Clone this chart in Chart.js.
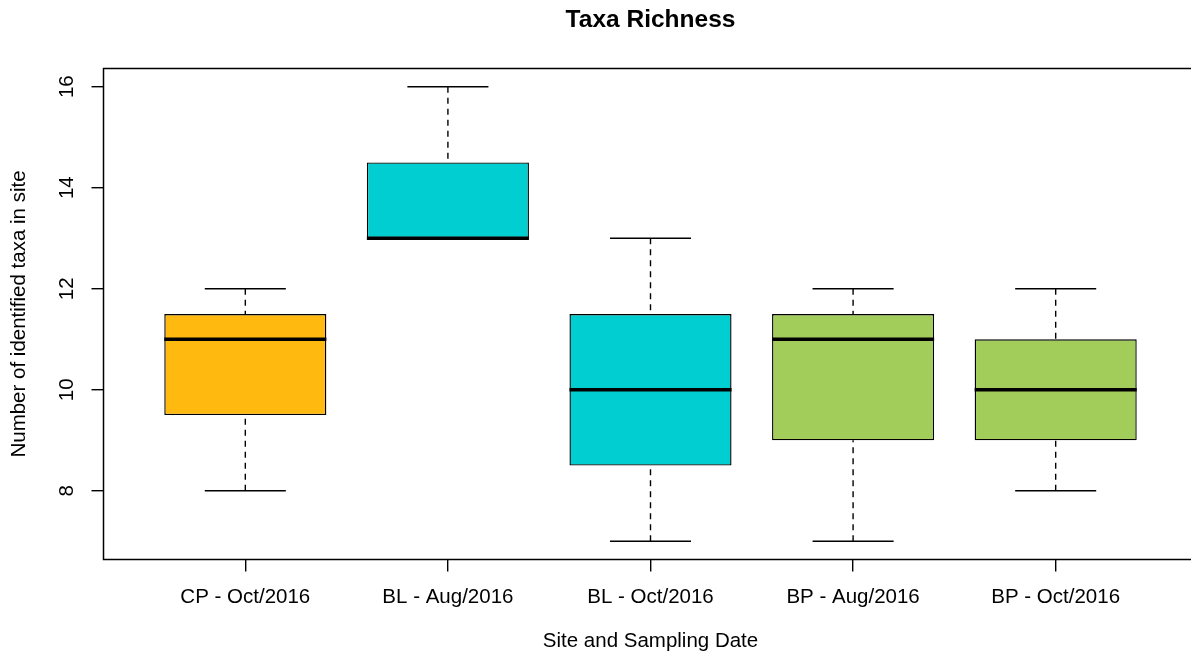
<!DOCTYPE html>
<html>
<head>
<meta charset="utf-8">
<title>Taxa Richness</title>
<script src="https://cdn.jsdelivr.net/npm/chart.js@4.4.0/dist/chart.umd.min.js"></script>
<style>
  html, body { margin: 0; padding: 0; background: #fff; overflow: hidden; }
  canvas { display: block; }
</style>
</head>
<body>
<canvas id="chart" width="1205" height="661"></canvas>
<script>
// five-number summaries, one entry per site/date
const categories = ['CP - Oct/2016', 'BL - Aug/2016', 'BL - Oct/2016', 'BP - Aug/2016', 'BP - Oct/2016'];
const positions = [1, 2, 3, 4, 5];
const mins = [8, 13, 7, 7, 8];
const q1s = [9.5, 13, 8.5, 9, 9];
const medians = [11, 13, 10, 11, 10];
const q3s = [11.5, 14.5, 11.5, 11.5, 11];
const maxs = [12, 16, 13, 12, 12];
const yTicks = [8, 10, 12, 14, 16];
const boxColors = ['#FFB90F', '#00CED1', '#00CED1', '#A2CD5A', '#A2CD5A'];

const FONT = "'Liberation Sans', Arial, Helvetica, sans-serif";

// whiskers, staples, medians and the plot frame (R bxp style)
const boxplotExtras = {
  id: 'boxplotExtras',
  afterDatasetsDraw(chart) {
    const { ctx, chartArea, scales: { x, y } } = chart;
    const bars = chart.getDatasetMeta(0).data;
    ctx.save();
    ctx.strokeStyle = '#000';
    positions.forEach((pos, i) => {
      const cx = x.getPixelForValue(pos);
      const half = bars[i].width / 2;
      const capHalf = half / 2;

      ctx.lineWidth = 1.4;
      ctx.setLineDash([6, 5]);
      ctx.beginPath();
      ctx.moveTo(cx, y.getPixelForValue(maxs[i]));
      ctx.lineTo(cx, y.getPixelForValue(q3s[i]));
      ctx.moveTo(cx, y.getPixelForValue(mins[i]));
      ctx.lineTo(cx, y.getPixelForValue(q1s[i]));
      ctx.stroke();
      ctx.setLineDash([]);

      ctx.beginPath();
      [mins[i], maxs[i]].forEach(v => {
        const py = y.getPixelForValue(v);
        ctx.moveTo(cx - capHalf, py);
        ctx.lineTo(cx + capHalf, py);
      });
      ctx.stroke();

      ctx.lineWidth = 3.5;
      ctx.beginPath();
      const my = y.getPixelForValue(medians[i]);
      ctx.moveTo(cx - half, my);
      ctx.lineTo(cx + half, my);
      ctx.stroke();
    });
    ctx.lineWidth = 1.5;
    ctx.strokeRect(chartArea.left, chartArea.top, chartArea.width, chartArea.height);
    ctx.restore();
  }
};

new Chart(document.getElementById('chart'), {
  type: 'bar',
  data: {
    datasets: [{
      data: positions.map((p, i) => ({ x: p, y: [q1s[i], q3s[i]] })),
      backgroundColor: boxColors,
      borderColor: '#000',
      borderWidth: 1.4,
      borderSkipped: false,
      barPercentage: 0.8,
      categoryPercentage: 1
    }]
  },
  options: {
    responsive: false,
    animation: false,
    devicePixelRatio: 1,
    layout: { padding: { left: 0, right: 7.5, top: 0, bottom: 0 } },
    plugins: {
      legend: { display: false },
      tooltip: { enabled: false },
      title: {
        display: true,
        text: 'Taxa Richness',
        fullSize: false,
        color: '#000',
        font: { family: FONT, size: 24.5, weight: 'bold' },
        padding: { top: 5.3, bottom: 33.8 }
      }
    },
    scales: {
      x: {
        type: 'linear',
        offset: false,
        min: 0.3,
        max: 5.7,
        afterBuildTicks: s => { s.ticks = positions.map(v => ({ value: v })); },
        afterFit: s => { s.height = 101.5; },
        grid: { offset: false, drawOnChartArea: false, drawTicks: true, tickLength: 12, color: '#000', lineWidth: 1.4 },
        border: { display: false },
        ticks: {
          autoSkip: false,
          maxRotation: 0,
          padding: 13.5,
          color: '#000',
          font: { family: FONT, size: 20.5 },
          callback: v => categories[v - 1]
        },
        title: {
          display: true,
          text: 'Site and Sampling Date',
          color: '#000',
          font: { family: FONT, size: 20.5 },
          padding: { top: 0, bottom: 7 }
        }
      },
      y: {
        min: 6.64,
        max: 16.36,
        afterBuildTicks: s => { s.ticks = yTicks.map(v => ({ value: v })); },
        afterFit: s => { s.width = 103.5; },
        grid: { drawOnChartArea: false, drawTicks: true, tickLength: 12, color: '#000', lineWidth: 1.4 },
        border: { display: false },
        ticks: {
          minRotation: 90,
          maxRotation: 90,
          crossAlign: 'center',
          padding: 13,
          color: '#000',
          font: { family: FONT, size: 20.5 }
        },
        title: {
          display: true,
          text: 'Number of identified taxa in site',
          color: '#000',
          font: { family: FONT, size: 20.5 },
          padding: { top: 6.7, bottom: 0 }
        }
      }
    }
  },
  plugins: [boxplotExtras]
});
</script>
</body>
</html>
